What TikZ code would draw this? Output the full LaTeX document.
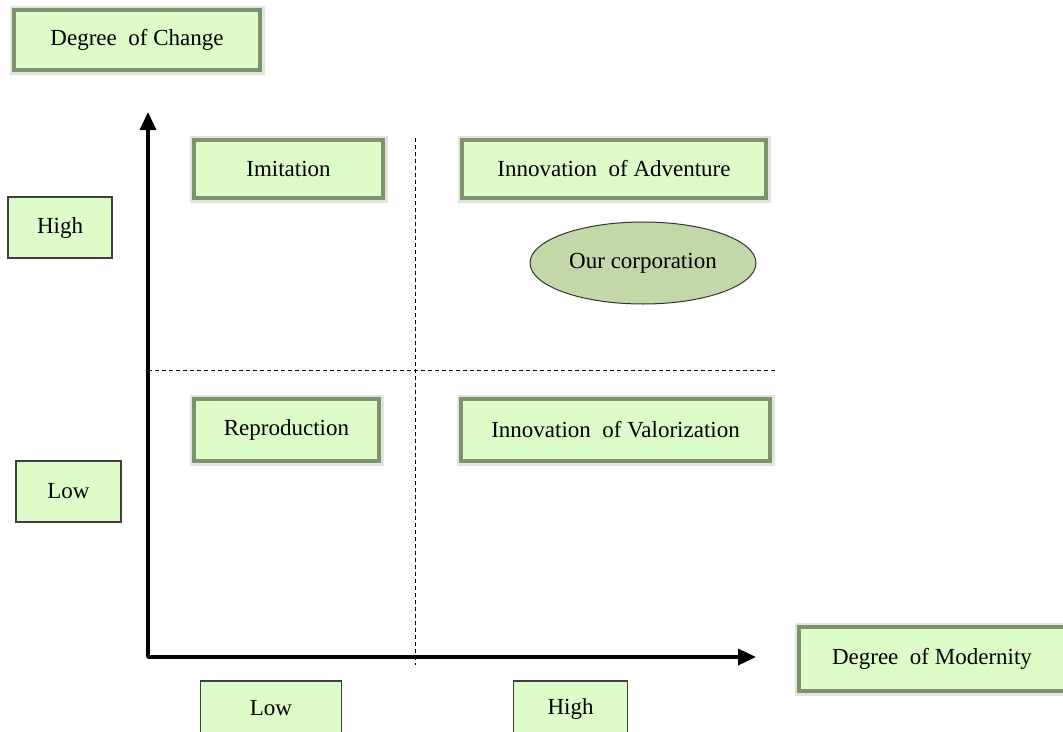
\documentclass[tikz,border=0pt]{standalone}
\usepackage{fontspec}
\setmainfont{Liberation Serif}
\usetikzlibrary{arrows.meta,shapes.geometric}
\definecolor{boxfill}{RGB}{221,252,200}
\definecolor{boxedge}{RGB}{126,146,110}
\definecolor{glowedge}{RGB}{170,185,158}
\definecolor{ovalfill}{RGB}{195,216,168}
\tikzset{
  label font/.style={font=\fontsize{23}{26}\selectfont},
  framebox/.style={label font, rectangle, fill=boxfill, draw=boxedge, line width=4pt,
    inner sep=0pt, align=center,
    preaction={draw=glowedge, line width=9pt, opacity=0.35}},
  levelbox/.style={label font, rectangle, fill=boxfill, draw=black!75, line width=1.6pt,
    inner sep=0pt, align=center},
  oval/.style={label font, ellipse, fill=ovalfill, draw=black!80, line width=1pt,
    inner sep=0pt, minimum width=226pt, minimum height=82pt},
  axes/.style={line width=3.6pt, line join=round,
    {Triangle[length=18pt,width=16pt]}-{Triangle[length=18pt,width=16pt]}},
  divider/.style={line width=0.9pt, dash pattern=on 4pt off 3pt}
}
\begin{document}
\begin{tikzpicture}[x=1pt,y=-1pt]
\useasboundingbox (0,0) rectangle (1063,731);
\clip (0,0) rectangle (1063,731);
\fill[white] (0,0) rectangle (1063,731);

% quadrant dividers
\coordinate (hl) at (148,370);
\coordinate (hr) at (775,370);
\coordinate (vt) at (415,138);
\coordinate (vb) at (415,665);
\draw[divider] (hl) -- (hr);
\draw[divider] (vt) -- (vb);

% axes: change (vertical) and modernity (horizontal)
\coordinate (ytip) at (148,112);
\coordinate (xtip) at (756,657);
\coordinate (origin) at (148,657);
\draw[axes] (ytip) -- (origin) -- (xtip);

% axis titles
\node[framebox, minimum width=246pt, minimum height=60pt] (change) at (137,40) {Degree~ of Change};
\node[framebox, minimum width=266pt, minimum height=64pt] (modernity) at (932,659) {Degree~ of Modernity};

% quadrants
\node[framebox, minimum width=189pt, minimum height=58pt] (imitation) at (288.5,169) {Imitation};
\node[framebox, minimum width=304pt, minimum height=58pt] (adventure) at (614,169) {Innovation~ of Adventure};
\node[framebox, minimum width=185pt, minimum height=62pt] (reproduction) at (286.5,430) {Reproduction};
\node[framebox, minimum width=309pt, minimum height=62pt] (valorization) at (615.5,430) {Innovation~ of Valorization};

\node[oval] (corp) at (643,263) {Our corporation};

% level labels
\node[levelbox, minimum width=104pt, minimum height=61pt] (yhigh) at (60,227.5) {High};
\node[levelbox, minimum width=105pt, minimum height=61pt] (ylow) at (68.5,491.5) {Low};
\node[levelbox, minimum width=141pt, minimum height=55pt] (xlow) at (271,708.5) {Low};
\node[levelbox, minimum width=114pt, minimum height=55pt] (xhigh) at (570.5,708.5) {High};
\end{tikzpicture}
\end{document}
